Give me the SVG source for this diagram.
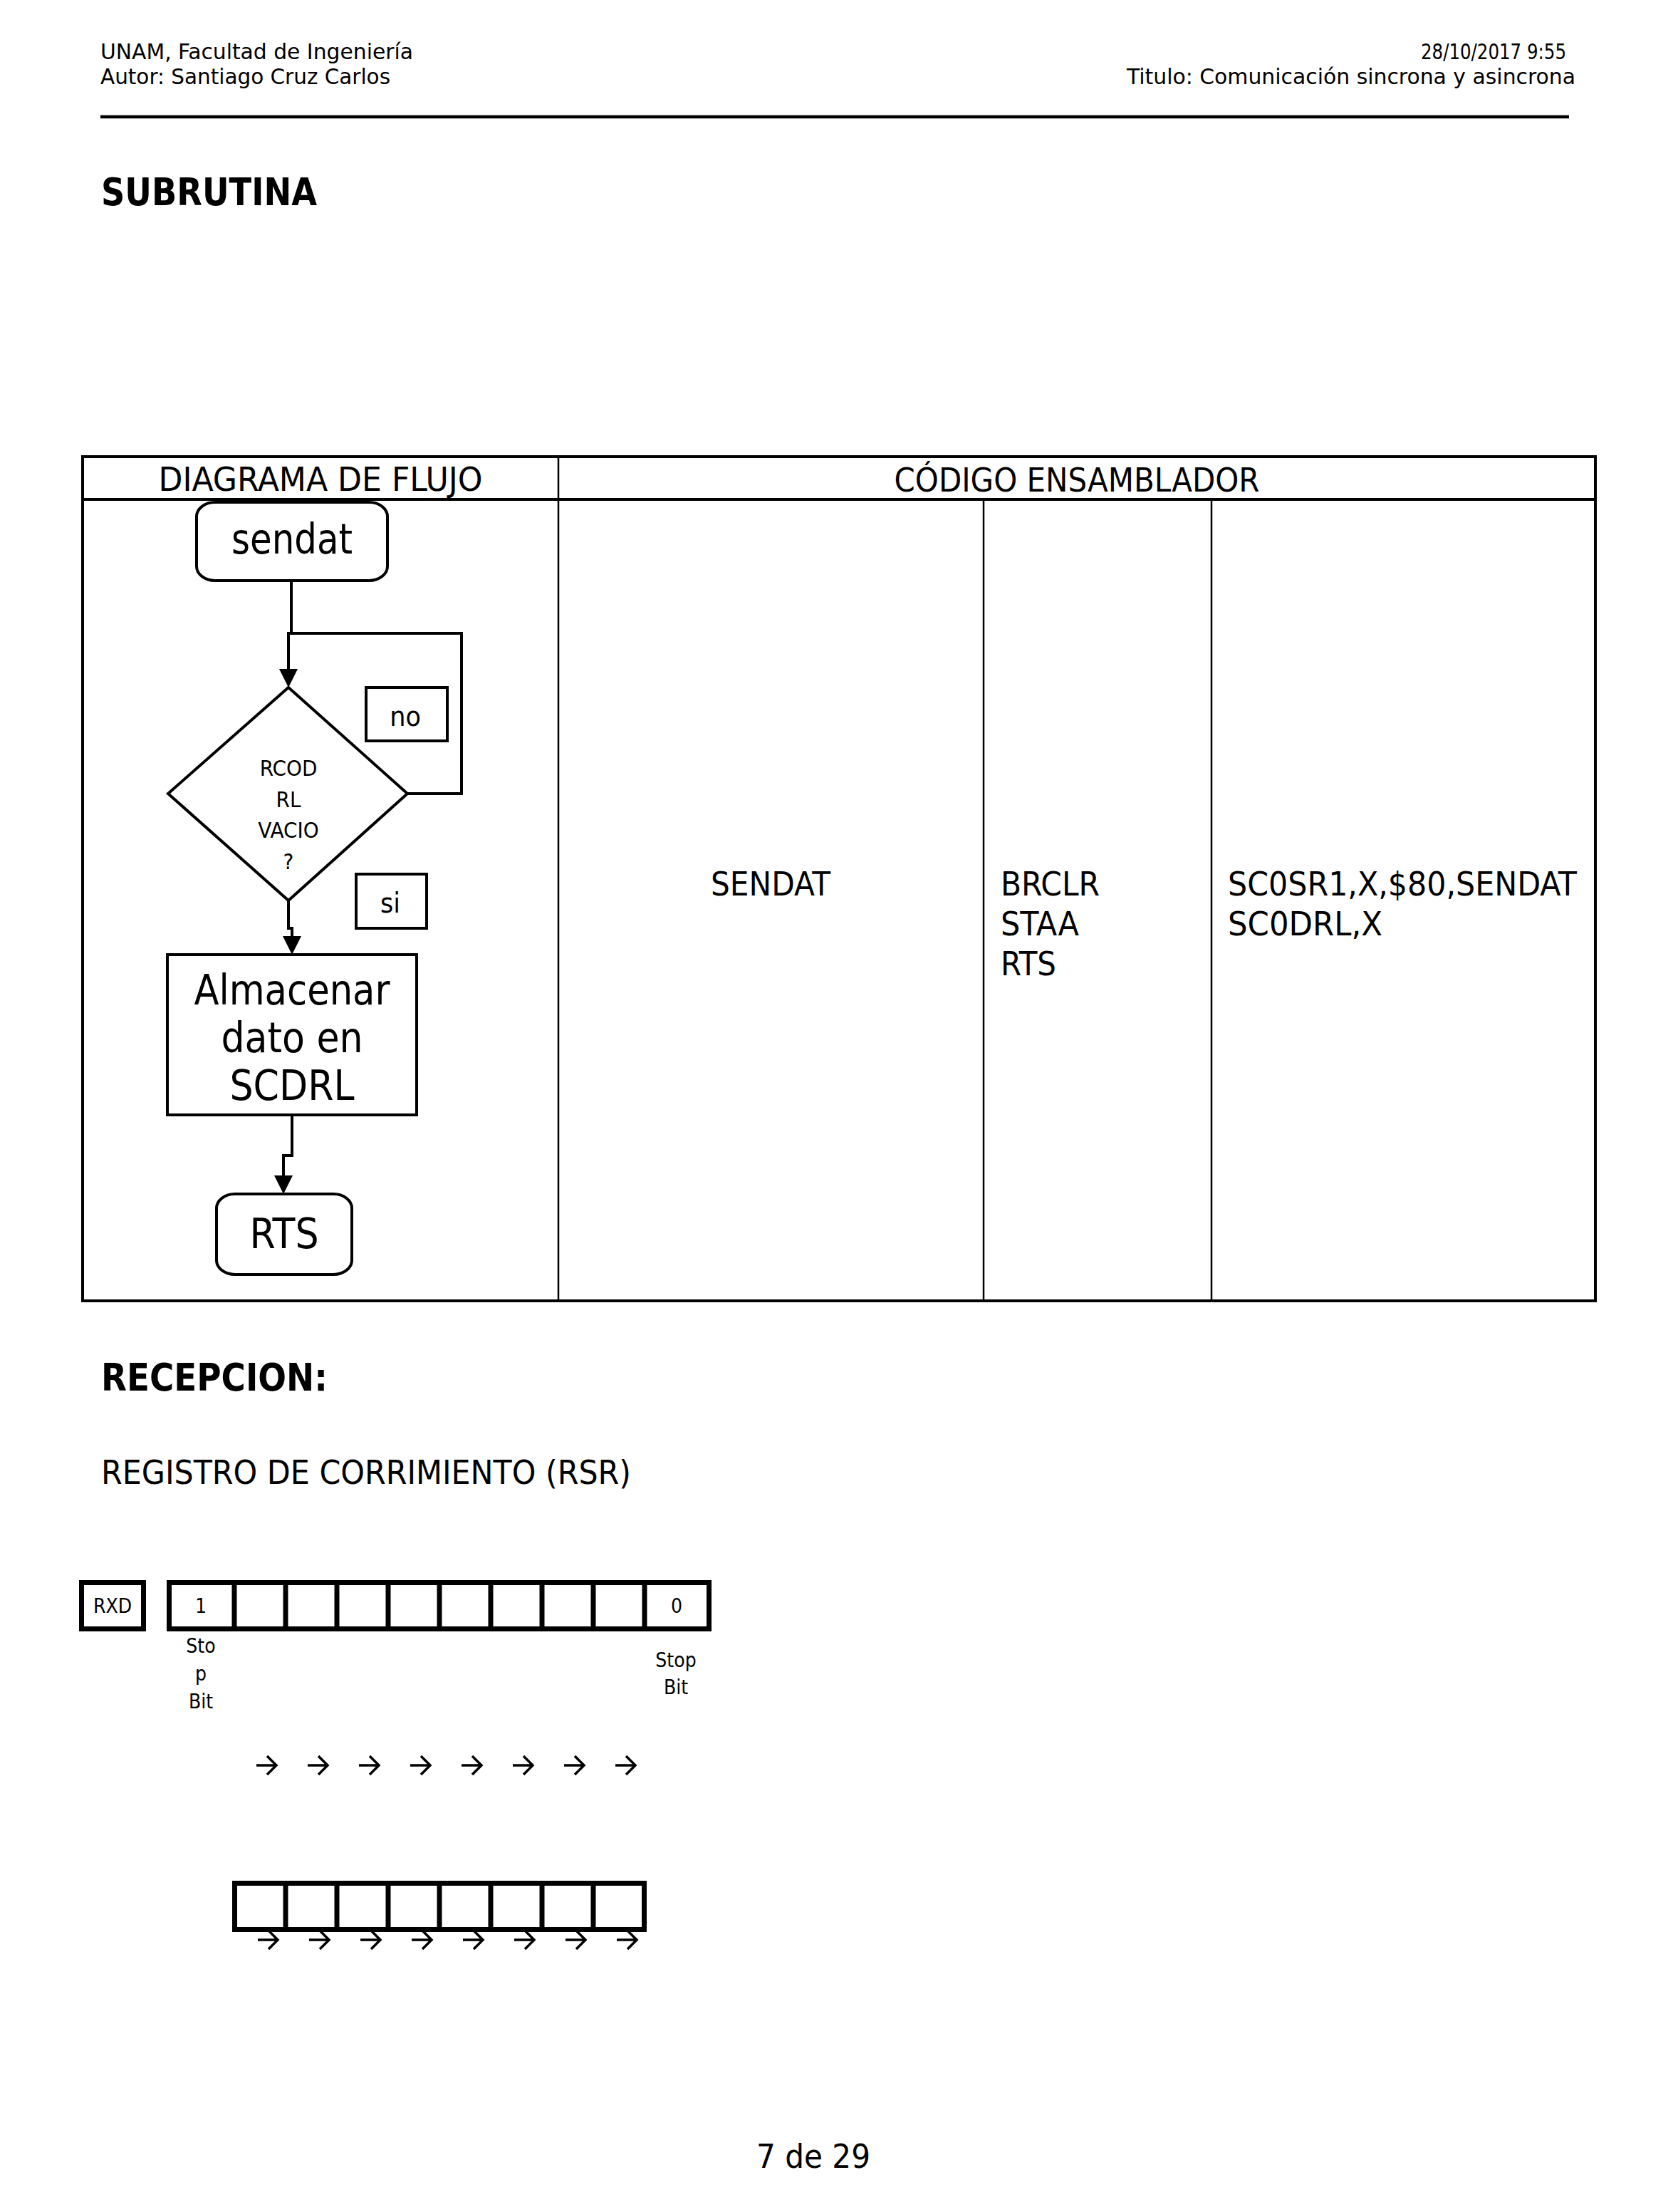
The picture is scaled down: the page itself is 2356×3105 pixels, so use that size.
<svg xmlns="http://www.w3.org/2000/svg" width="2356" height="3105" viewBox="0 0 2356 3105">
  <style>
    text { font-family: "DejaVu Sans Condensed", "DejaVu Sans", sans-serif; font-stretch: condensed; fill: #000; }
    .hdr { font-size: 31px; }
    .h1 { font-size: 54px; font-weight: bold; }
    .th { font-size: 46px; text-anchor: middle; }
    .code { font-size: 46px; }
    .big { font-size: 58px; text-anchor: middle; }
    .dia { font-size: 31px; text-anchor: middle; }
    .lbl { font-size: 39px; text-anchor: middle; }
    .bit { font-size: 28px; text-anchor: middle; }
    .frame { fill: none; stroke: #000; stroke-width: 4; }
    .thin { fill: none; stroke: #000; stroke-width: 2.5; }
    .node { fill: #fff; stroke: #000; stroke-width: 4; }
    .conn { fill: none; stroke: #000; stroke-width: 4; }
    .head { fill: #000; stroke: none; }
    .reg { fill: none; stroke: #000; stroke-width: 7; }
    .shift { fill: none; stroke: #000; stroke-width: 3.5; }
  </style>
  <defs>
    <path id="shiftArrow" class="shift" d="M0,0 H28 M15,-13 L28,0 L15,13"/>
  </defs>

  <rect width="2356" height="3105" fill="#fff"/>

  <!-- page header -->
  <g id="page-header">
    <text class="hdr" x="141" y="83" textLength="439" lengthAdjust="spacingAndGlyphs">UNAM, Facultad de Ingeniería</text>
    <text class="hdr" x="141" y="118" textLength="407" lengthAdjust="spacingAndGlyphs">Autor: Santiago Cruz Carlos</text>
    <text class="hdr" x="2199" y="83" text-anchor="end" textLength="204" lengthAdjust="spacingAndGlyphs">28/10/2017 9:55</text>
    <text class="hdr" x="2212" y="118" text-anchor="end" textLength="630" lengthAdjust="spacingAndGlyphs">Titulo: Comunicación sincrona y asincrona</text>
    <line x1="141" y1="164" x2="2203" y2="164" stroke="#000" stroke-width="4.5"/>
  </g>

  <text class="h1" x="142" y="288" textLength="303" lengthAdjust="spacingAndGlyphs">SUBRUTINA</text>

  <!-- table frame -->
  <g id="table">
    <rect class="frame" x="116" y="641" width="2124" height="1185"/>
    <line class="frame" x1="116" y1="701" x2="2240" y2="701"/>
    <line class="thin" x1="784" y1="641" x2="784" y2="1826"/>
    <line class="thin" x1="1381" y1="701" x2="1381" y2="1826"/>
    <line class="thin" x1="1701" y1="701" x2="1701" y2="1826"/>
    <text class="th" x="450" y="689" textLength="455" lengthAdjust="spacingAndGlyphs">DIAGRAMA DE FLUJO</text>
    <text class="th" x="1512" y="690" textLength="513" lengthAdjust="spacingAndGlyphs">CÓDIGO ENSAMBLADOR</text>
  </g>

  <!-- assembler listing -->
  <g id="code">
    <text class="code" x="1082" y="1257" text-anchor="middle" textLength="168" lengthAdjust="spacingAndGlyphs">SENDAT</text>
    <text class="code" x="1405" y="1257" textLength="139" lengthAdjust="spacingAndGlyphs">BRCLR</text>
    <text class="code" x="1405" y="1313" textLength="110" lengthAdjust="spacingAndGlyphs">STAA</text>
    <text class="code" x="1405" y="1369" textLength="78" lengthAdjust="spacingAndGlyphs">RTS</text>
    <text class="code" x="1724" y="1257" textLength="490" lengthAdjust="spacingAndGlyphs">SC0SR1,X,$80,SENDAT</text>
    <text class="code" x="1724" y="1313" textLength="217" lengthAdjust="spacingAndGlyphs">SC0DRL,X</text>
  </g>

  <!-- flowchart connectors -->
  <g id="connectors">
    <path class="conn" d="M409,815 V891"/>
    <path class="conn" d="M572,1114 H648 V889 H405 V941"/>
    <polygon class="head" points="392,939 418,939 405,965"/>
    <path class="conn" d="M405,1264 V1303 H410 V1316"/>
    <polygon class="head" points="397,1314 423,1314 410,1340"/>
    <path class="conn" d="M410,1565 V1622 H398 V1652"/>
    <polygon class="head" points="385,1650 411,1650 398,1676"/>
  </g>

  <!-- flowchart nodes -->
  <g id="start">
    <rect class="node" x="276" y="705" width="268" height="110" rx="26" ry="20"/>
    <text class="big" x="410" y="777" textLength="170" lengthAdjust="spacingAndGlyphs">sendat</text>
  </g>
  <g id="decision">
    <polygon class="node" stroke-width="3.5" points="405,965 572,1114 405,1264 236,1114"/>
    <text class="dia" x="405" y="1089">RCOD</text>
    <text class="dia" x="405" y="1133">RL</text>
    <text class="dia" x="405" y="1176">VACIO</text>
    <text class="dia" x="405" y="1220">?</text>
  </g>
  <g id="label-no">
    <rect class="node" stroke-width="3.5" x="514" y="965" width="114" height="75"/>
    <text class="lbl" x="569" y="1019">no</text>
  </g>
  <g id="label-si">
    <rect class="node" stroke-width="3.5" x="500" y="1227" width="99" height="76"/>
    <text class="lbl" x="548" y="1281">si</text>
  </g>
  <g id="store">
    <rect class="node" x="235" y="1340" width="350" height="225"/>
    <text class="big" x="410" y="1410" textLength="275" lengthAdjust="spacingAndGlyphs">Almacenar</text>
    <text class="big" x="410" y="1477">dato en</text>
    <text class="big" x="410" y="1544">SCDRL</text>
  </g>
  <g id="end">
    <rect class="node" x="304" y="1676" width="190" height="113" rx="26" ry="20"/>
    <text class="big" x="399" y="1752">RTS</text>
  </g>

  <text class="h1" x="142" y="1952" textLength="318" lengthAdjust="spacingAndGlyphs">RECEPCION:</text>
  <text class="code" x="142" y="2083" textLength="744" lengthAdjust="spacingAndGlyphs">REGISTRO DE CORRIMIENTO (RSR)</text>

  <!-- receive shift register -->
  <g id="rxd">
    <rect class="reg" x="114.5" y="2221.5" width="87" height="65"/>
    <text class="bit" x="158" y="2264">RXD</text>
  </g>
  <g id="rsr">
    <rect class="reg" x="237.5" y="2221.5" width="758" height="65"/>
    <path class="reg" stroke-width="6" d="M329,2222 V2286 M401,2222 V2286 M473,2222 V2286 M545,2222 V2286 M617,2222 V2286 M689,2222 V2286 M761,2222 V2286 M833,2222 V2286 M905,2222 V2286"/>
    <text class="bit" x="282" y="2264">1</text>
    <text class="bit" x="950" y="2264">0</text>
    <text class="bit" x="282" y="2320">Sto</text>
    <text class="bit" x="282" y="2359">p</text>
    <text class="bit" x="282" y="2398">Bit</text>
    <text class="bit" x="949" y="2340">Stop</text>
    <text class="bit" x="949" y="2378">Bit</text>
  </g>

  <!-- shift direction arrows -->
  <g id="shift-top">
    <use href="#shiftArrow" x="360" y="2478"/>
    <use href="#shiftArrow" x="432" y="2478"/>
    <use href="#shiftArrow" x="504" y="2478"/>
    <use href="#shiftArrow" x="576" y="2478"/>
    <use href="#shiftArrow" x="648" y="2478"/>
    <use href="#shiftArrow" x="720" y="2478"/>
    <use href="#shiftArrow" x="792" y="2478"/>
    <use href="#shiftArrow" x="864" y="2478"/>
  </g>

  <g id="data-register">
    <rect class="reg" x="329.5" y="2643.5" width="575" height="65"/>
    <path class="reg" stroke-width="6" d="M401,2644 V2708 M473,2644 V2708 M545,2644 V2708 M617,2644 V2708 M689,2644 V2708 M761,2644 V2708 M833,2644 V2708"/>
  </g>

  <g id="shift-bottom">
    <use href="#shiftArrow" x="362" y="2723"/>
    <use href="#shiftArrow" x="434" y="2723"/>
    <use href="#shiftArrow" x="506" y="2723"/>
    <use href="#shiftArrow" x="578" y="2723"/>
    <use href="#shiftArrow" x="650" y="2723"/>
    <use href="#shiftArrow" x="722" y="2723"/>
    <use href="#shiftArrow" x="794" y="2723"/>
    <use href="#shiftArrow" x="866" y="2723"/>
  </g>

  <text class="code" x="1142" y="3043" text-anchor="middle" textLength="160" lengthAdjust="spacingAndGlyphs">7 de 29</text>
</svg>
